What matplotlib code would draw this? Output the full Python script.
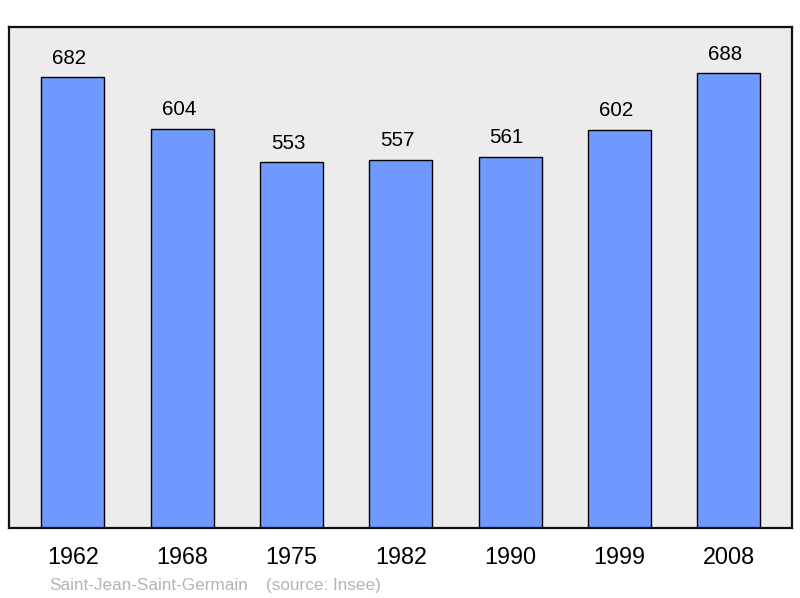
import matplotlib.pyplot as plt
import numpy as np

plt.rcParams['font.family'] = ['Liberation Sans', 'DejaVu Sans']

years = ['1962', '1968', '1975', '1982', '1990', '1999', '2008']
population = [682, 604, 553, 557, 561, 602, 688]
commune = 'Saint-Jean-Saint-Germain'
source = '(source: Insee)'

fig = plt.figure(figsize=(8, 5.98), dpi=100)
ax = fig.add_axes([9 / 800, 1 - 528 / 598, 783 / 800, 501 / 598])
ax.set_facecolor('#ececec')

x = np.arange(len(years))
ax.bar(x, population, width=0.577, color='#7099ff', edgecolor='black', linewidth=1.0)
for xi, v in zip(x, population):
    ax.annotate(str(v), (xi, v), xytext=(-2.5, 7), textcoords='offset points',
                ha='center', va='bottom', fontsize=14.8)

ax.set_xlim(-0.585, len(years) - 1 + 0.58)
ax.set_ylim(0, 758)
ax.set_yticks([])
ax.set_xticks(x)
ax.set_xticklabels(years, fontsize=16.8)
ax.tick_params(axis='x', length=0, pad=13)
for s in ax.spines.values():
    s.set_linewidth(1.6)
    s.set_color('#111111')

fig.text(49 / 800, 1 - 590 / 598, commune, fontsize=12.3, color='#b4b4b4', va='baseline')
fig.text(266 / 800, 1 - 590 / 598, source, fontsize=12.3, color='#b4b4b4', va='baseline')

fig.savefig('out.png', dpi=100)
